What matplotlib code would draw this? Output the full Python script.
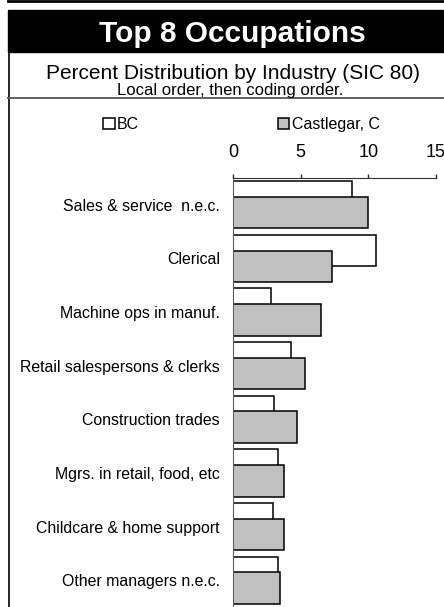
import numpy as np
import matplotlib
matplotlib.use("Agg")
from matplotlib import pyplot as plt
from matplotlib.patches import Rectangle
from matplotlib.lines import Line2D

plt.rcParams['font.family'] = ['Liberation Sans', 'DejaVu Sans']

occupations = ["Sales & service  n.e.c.", "Clerical", "Machine ops in manuf.",
               "Retail salespersons & clerks", "Construction trades",
               "Mgrs. in retail, food, etc", "Childcare & home support",
               "Other managers n.e.c."]
bc = [8.8, 10.55, 2.8, 4.25, 3.0, 3.35, 2.95, 3.35]
castlegar = [10.0, 7.3, 6.5, 5.3, 4.7, 3.8, 3.8, 3.5]
ticks = [0, 5, 10, 15]

W, H = 444, 607
fig = plt.figure(figsize=(W / 100, H / 100), dpi=100)

# frame decorations (pixel coords -> figure fraction)
def fx(px):
    return px / W

def fy(py):
    return 1 - py / H

fig.add_artist(Line2D([fx(8), 1], [fy(1.2), fy(1.2)], color='black', lw=2))
fig.add_artist(Rectangle((fx(8), fy(52)), 1 - fx(8), fy(10) - fy(52),
                         color='black', transform=fig.transFigure))
fig.add_artist(Line2D([fx(8.5), fx(8.5)], [0, fy(52)], color='black', lw=1.2))
fig.add_artist(Line2D([fx(8), 1], [fy(97.5), fy(97.5)], color='#606060', lw=1.4))

fig.text(fx(232), fy(41.5), "Top 8 Occupations", color='white', fontsize=21.5,
         fontweight='bold', ha='center', va='baseline')
fig.text(fx(232.5), fy(79), "Percent Distribution by Industry (SIC 80)",
         fontsize=15, ha='center', va='baseline')
fig.text(fx(230), fy(94.5), "Local order, then coding order.",
         fontsize=12, ha='center', va='baseline')

ax = fig.add_axes([fx(233), 0, fx(436) - fx(233), fy(178)])
y = np.arange(len(occupations))
h = 0.588
off = 0.146
b1 = ax.barh(y - off, bc, height=h, color='white', edgecolor='black', lw=1.1, label='BC')
b2 = ax.barh(y + off, castlegar, height=h, color='#c0c0c0', edgecolor='black', lw=1.1,
             label='Castlegar, C')

ax.set_xlim(0, 15)
ax.set_ylim(len(occupations) - 0.5, -0.5)
ax.set_xticks(ticks)
ax.set_yticks(y)
ax.set_yticklabels(occupations, fontsize=11.4)
ax.xaxis.tick_top()
ax.tick_params(axis='x', direction='out', length=3, width=1, color='#303030',
               pad=9.5, labelsize=13)
ax.tick_params(axis='y', length=0, pad=9.4)
for s in ['right', 'bottom']:
    ax.spines[s].set_visible(False)
ax.spines['top'].set_color('#303030')
ax.spines['left'].set_color('#606060')

fig.legend(handles=[b1, b2], loc='center', bbox_to_anchor=(fx(241.5), fy(124.5)),
           ncol=2, frameon=False, fontsize=11.5, handlelength=0.7, handleheight=0.7,
           handletextpad=0.15, columnspacing=8.7, borderpad=0)

fig.savefig("out.png", dpi=100)
